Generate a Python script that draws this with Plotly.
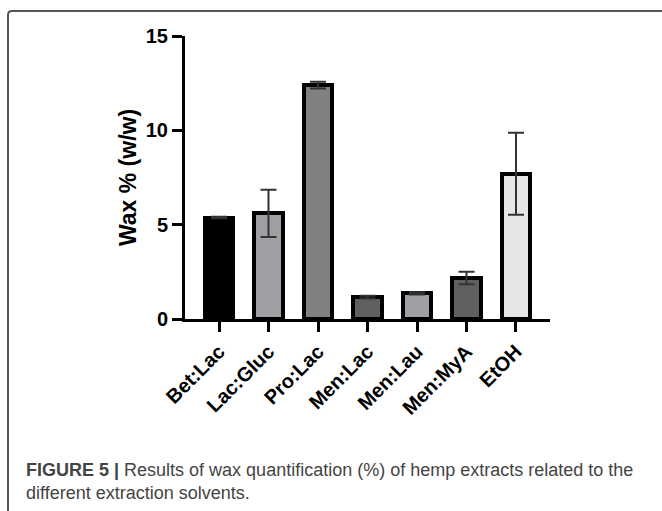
import plotly.graph_objects as go

categories = ["Bet:Lac", "Lac:Gluc", "Pro:Lac", "Men:Lac", "Men:Lau", "Men:MyA", "EtOH"]
wax_mean = [5.38, 5.6, 12.4, 1.16, 1.36, 2.17, 7.7]
wax_err = [0.04, 1.25, 0.18, 0.07, 0.06, 0.33, 2.17]
bar_colors = ["#000000", "#a0a0a4", "#808080", "#606060", "#a0a0a4", "#606060", "#e6e6e6"]
y_ticks = [0, 5, 10, 15]

W, H = 662, 511
def px(x):
    return x / W
def py(y):
    return 1 - y / H

fig = go.Figure()
fig.add_trace(go.Bar(
    x=list(range(len(categories))),
    y=wax_mean,
    width=0.57,
    marker=dict(color=bar_colors, line=dict(color="#000000", width=4)),
    error_y=dict(type="data", array=wax_err, visible=True, color="#333333", thickness=2, width=8),
))

fig.update_layout(
    template="none",
    width=W, height=H,
    margin=dict(l=0, r=0, t=0, b=0, pad=0, autoexpand=False),
    paper_bgcolor="white", plot_bgcolor="white",
    showlegend=False,
    font=dict(family="Liberation Sans, Arial, sans-serif", color="#000000"),
    bargap=0,
)
fig.update_xaxes(
    automargin=False,
    domain=[px(185), px(550)],
    range=[-0.687, 6.687],
    tickmode="array", tickvals=list(range(len(categories))), ticktext=categories,
    tickangle=-45,
    tickfont=dict(size=20, weight="bold", family="Liberation Sans, Arial", color="#000"),
    ticks="outside", ticklen=10, tickwidth=3, tickcolor="#000",
    showline=True, linecolor="#000", linewidth=3,
    showgrid=False, zeroline=False,
)
fig.update_yaxes(
    automargin=False,
    domain=[py(319), py(36)],
    range=[0, 15],
    tickmode="array", tickvals=y_ticks, ticktext=[str(v) for v in y_ticks],
    tickfont=dict(size=20, weight="bold", family="Liberation Sans, Arial", color="#000"),
    ticks="outside", ticklen=10, tickwidth=3, tickcolor="#000",
    showline=True, linecolor="#000", linewidth=3,
    showgrid=False, zeroline=False,
    title=dict(text="Wax % (w/w)", font=dict(size=23, weight="bold", family="Liberation Sans, Arial", color="#000"), standoff=3),
)

fig.add_shape(type="path", xref="paper", yref="paper",
              path=f"M {px(8)},{py(511)} L {px(8)},{py(15)} Q {px(8)},{py(11)} {px(12)},{py(11)} L {px(662)},{py(11)}",
              line=dict(color="#555555", width=2))

fig.add_annotation(
    xref="paper", yref="paper", x=px(24), y=py(470), xanchor="left", yanchor="middle",
    text="<b>FIGURE 5 |</b> Results of wax quantification (%) of hemp extracts related to the",
    showarrow=False, align="left",
    font=dict(size=18, family="Liberation Sans, Arial", color="#444444"),
)
fig.add_annotation(
    xref="paper", yref="paper", x=px(24), y=py(493), xanchor="left", yanchor="middle",
    text="different extraction solvents.",
    showarrow=False, align="left",
    font=dict(size=18, family="Liberation Sans, Arial", color="#444444"),
)

fig.write_html("out.html", config={"displayModeBar": False},
               post_script="document.body.style.margin='0';document.body.style.overflow='hidden';")
